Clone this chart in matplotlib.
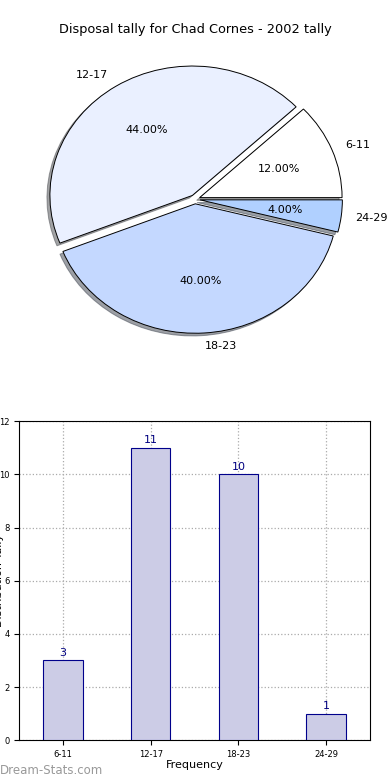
import numpy as np
import matplotlib
matplotlib.use('Agg')
from matplotlib import pyplot as plt

# data
groups = ['6-11', '12-17', '18-23', '24-29']
tally = [3, 11, 10, 1]
pie_colors = ['#ffffff', '#eaf0ff', '#c4d8ff', '#b0d0ff']
explode = [0.035, 0.035, 0.035, 0.035]

fig = plt.figure(figsize=(3.9, 7.8), dpi=100)

# pie on top (old style: stretched, not circular)
ax1 = fig.add_axes([0.091, 0.557, 0.818, 0.375])
wedges, texts, autotexts = ax1.pie(tally, labels=groups, colors=pie_colors, explode=explode,
                                   autopct='%1.2f%%', shadow={'ox': -0.015, 'oy': -0.015},
                                   startangle=0,
                                   wedgeprops={'edgecolor': 'black', 'linewidth': 0.7},
                                   textprops={'fontsize': 8})
ax1.set_aspect('auto')
ax1.set_xlim(-1.12, 1.12)
ax1.set_ylim(-1.13, 1.13)
fig.text(0.5, 0.962, 'Disposal tally for Chad Cornes - 2002 tally', ha='center', va='center', fontsize=9.3)

# bars underneath
ax2 = fig.add_axes([0.049, 0.051, 0.9, 0.409])
x = np.arange(len(groups))
ax2.bar(x, tally, width=0.45, color='#ccccE6', edgecolor='#00008b', linewidth=0.8, zorder=3)
for xi, v in zip(x, tally):
    ax2.text(xi, v + 0.1, str(v), ha='center', va='bottom', fontsize=8, color='#000080', zorder=4)
ax2.set_xlim(-0.5, 3.5)
ax2.set_ylim(0, 12)
ax2.set_xticks(x)
ax2.set_xticklabels(groups, fontsize=6)
ax2.set_yticks(range(0, 13, 2))
ax2.tick_params(axis='y', labelsize=6)
ax2.grid(True, linestyle=':', color='#aaaaaa', linewidth=0.9, zorder=0)
ax2.set_xlabel('Frequency', fontsize=8, labelpad=1)
ax2.set_ylabel('Distribution Tally', fontsize=8)
ax2.yaxis.set_label_coords(-0.043, 0.5)  # label sits half off the left edge, like the original

fig.text(0.0, 0.012, 'Dream-Stats.com', ha='left', va='center', fontsize=8.5, color='#999999')

fig.savefig('out.png', dpi=100)
